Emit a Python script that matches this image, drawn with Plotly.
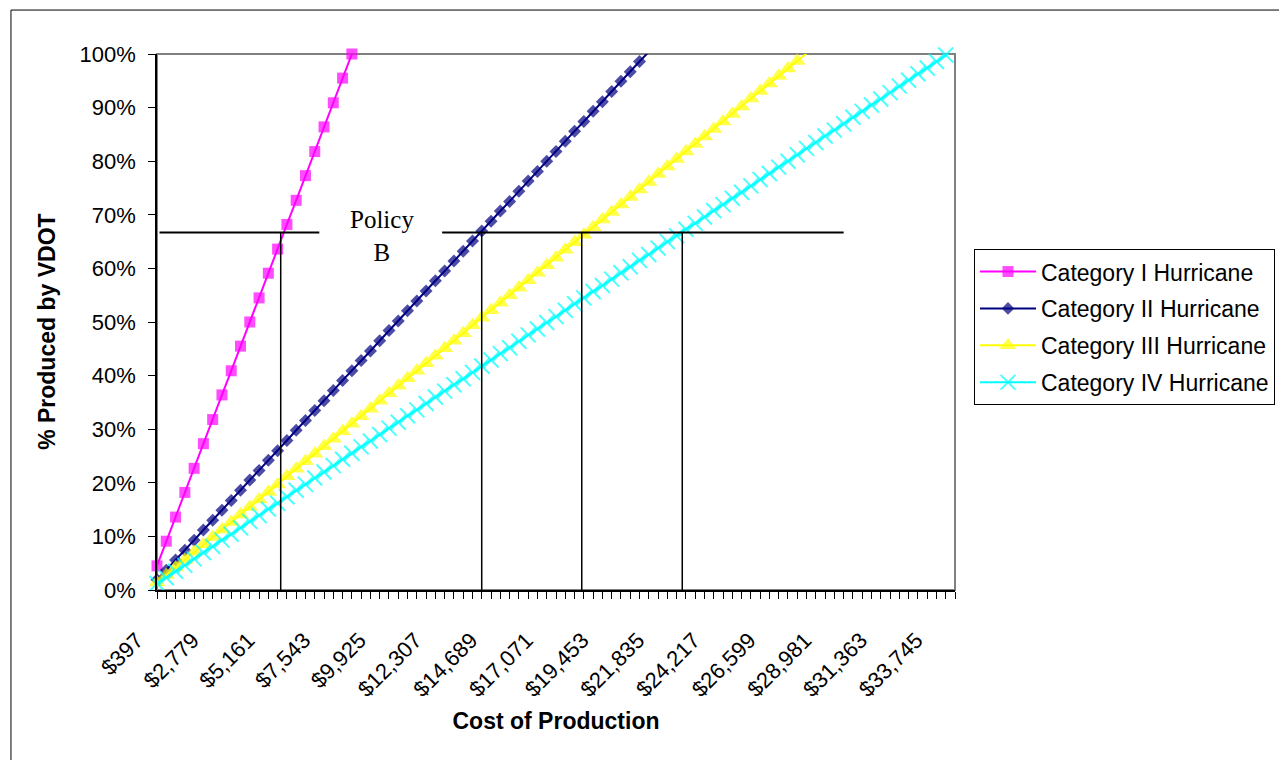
import plotly.graph_objects as go

# cost of production categories (every $397)
costs = [397, 794, 1191, 1588, 1985, 2382, 2779, 3176, 3573, 3970,
         4367, 4764, 5161, 5558, 5955, 6352, 6749, 7146, 7543, 7940,
         8337, 8734, 9131, 9528, 9925, 10322, 10719, 11116, 11513, 11910,
         12307, 12704, 13101, 13498, 13895, 14292, 14689, 15086, 15483, 15880,
         16277, 16674, 17071, 17468, 17865, 18262, 18659, 19056, 19453, 19850,
         20247, 20644, 21041, 21438, 21835, 22232, 22629, 23026, 23423, 23820,
         24217, 24614, 25011, 25408, 25805, 26202, 26599, 26996, 27393, 27790,
         28187, 28584, 28981, 29378, 29775, 30172, 30569, 30966, 31363, 31760,
         32157, 32554, 32951, 33348, 33745, 34142, 34539]

# % produced by VDOT
cat1 = [4.5, 9.1, 13.6, 18.2, 22.7, 27.3, 31.8, 36.4, 40.9, 45.5,
        50.0, 54.5, 59.1, 63.6, 68.2, 72.7, 77.3, 81.8, 86.4, 90.9,
        95.5, 100.0]
cat2 = [1.9, 3.7, 5.6, 7.4, 9.3, 11.2, 13.0, 14.9, 16.7, 18.6,
        20.5, 22.3, 24.2, 26.0, 27.9, 29.8, 31.6, 33.5, 35.3, 37.2,
        39.1, 40.9, 42.8, 44.6, 46.5, 48.4, 50.2, 52.1, 53.9, 55.8,
        57.7, 59.5, 61.4, 63.2, 65.1, 67.0, 68.8, 70.7, 72.5, 74.4,
        76.3, 78.1, 80.0, 81.8, 83.7, 85.6, 87.4, 89.3, 91.1, 93.0,
        94.9, 96.7, 98.6, 100.4]
cat3 = [1.4, 2.8, 4.2, 5.6, 7.1, 8.5, 9.9, 11.3, 12.7, 14.1,
        15.5, 16.9, 18.3, 19.7, 21.2, 22.6, 24.0, 25.4, 26.8, 28.2,
        29.6, 31.0, 32.4, 33.8, 35.3, 36.7, 38.1, 39.5, 40.9, 42.3,
        43.7, 45.1, 46.5, 47.9, 49.4, 50.8, 52.2, 53.6, 55.0, 56.4,
        57.8, 59.2, 60.6, 62.0, 63.5, 64.9, 66.3, 67.7, 69.1, 70.5,
        71.9, 73.3, 74.7, 76.1, 77.6, 79.0, 80.4, 81.8, 83.2, 84.6,
        86.0, 87.4, 88.8, 90.2, 91.7, 93.1, 94.5, 95.9, 97.3, 98.7,
        100.1]
cat4 = [1.2, 2.3, 3.5, 4.6, 5.8, 7.0, 8.1, 9.3, 10.4, 11.6,
        12.8, 13.9, 15.1, 16.2, 17.4, 18.6, 19.7, 20.9, 22.0, 23.2,
        24.4, 25.5, 26.7, 27.8, 29.0, 30.2, 31.3, 32.5, 33.6, 34.8,
        36.0, 37.1, 38.3, 39.4, 40.6, 41.8, 42.9, 44.1, 45.2, 46.4,
        47.6, 48.7, 49.9, 51.0, 52.2, 53.4, 54.5, 55.7, 56.8, 58.0,
        59.2, 60.3, 61.5, 62.6, 63.8, 65.0, 66.1, 67.3, 68.4, 69.6,
        70.8, 71.9, 73.1, 74.2, 75.4, 76.6, 77.7, 78.9, 80.0, 81.2,
        82.4, 83.5, 84.7, 85.8, 87.0, 88.2, 89.3, 90.5, 91.6, 92.8,
        94.0, 95.1, 96.3, 97.4, 98.6, 99.8, 100.9]

names = ["Category I Hurricane", "Category II Hurricane",
         "Category III Hurricane", "Category IV Hurricane"]

# Policy B reference: share level and the costs where each category meets it
policy_share = 66.7
policy_costs = [5690, 14290, 18570, 22870]
policy_spans = [(504, 7341), (12597, 29775)]

tick_costs = costs[::6]
tick_text = ["$" + format(c, ",") for c in tick_costs]

styles = [
    dict(color="#FF00FF", symbol="square", size=11, lw=0),
    dict(color="#000080", symbol="diamond", size=10, lw=0),
    dict(color="#FFFF00", symbol="triangle-up", size=15, lw=0),
    dict(color="#00FFFF", symbol="x-thin", size=15, lw=2),
]

fig = go.Figure()
for name, vals, st in zip(names, [cat1, cat2, cat3, cat4], styles):
    x = costs[:len(vals)]
    y = [v / 100 for v in vals]
    # Excel does not draw markers above the axis max
    sizes = [st["size"] if v <= 100 else 0 for v in vals]
    fig.add_trace(go.Scatter(
        x=x, y=y, name=name, mode="lines+markers", legendgroup=name,
        line=dict(color=st["color"], width=2),
        marker=dict(symbol=st["symbol"], size=sizes, color=st["color"],
                    line=dict(width=st["lw"], color=st["color"])),
        cliponaxis=False,
    ))

shapes = []
# outer chart border
shapes.append(dict(type="rect", xref="paper", yref="paper",
                   x0=-0.183, x1=1.45, y0=-0.35, y1=1.082,
                   line=dict(color="black", width=1), layer="below"))
# plot-area border (grey)
shapes.append(dict(type="rect", xref="paper", yref="paper",
                   x0=0, x1=1, y0=0, y1=1,
                   line=dict(color="#808080", width=2), layer="below"))
for a, b in policy_spans:
    shapes.append(dict(type="line", xref="x", yref="y", x0=a, x1=b,
                       y0=policy_share / 100, y1=policy_share / 100,
                       line=dict(color="black", width=2)))
for c in policy_costs:
    shapes.append(dict(type="line", xref="x", yref="y", x0=c, x1=c,
                       y0=policy_share / 100, y1=-0.016,
                       line=dict(color="black", width=1.5)))

fig.update_layout(
    width=1287, height=760,
    # the page body adds ~8px, so margins are trimmed by that much
    margin=dict(l=149, r=340, t=46, b=178),
    paper_bgcolor="white", plot_bgcolor="white",
    font=dict(family="Liberation Sans, Arial", size=22, color="black"),
    shapes=shapes,
    showlegend=True,
    legend=dict(x=1.0238, y=0.636, xanchor="left", yanchor="top",
                bordercolor="black", borderwidth=1, bgcolor="white",
                font=dict(size=23), tracegroupgap=4, itemwidth=56),
    annotations=[
        dict(text="Policy<br>B", x=10024, y=0.66, xref="x", yref="y",
             showarrow=False,
             font=dict(family="Liberation Serif, Times New Roman", size=25)),
        # y-axis title sits a bit below the plot centre, as in Excel
        dict(text="<b>% Produced by VDOT</b>", textangle=-90,
             x=-0.137, y=0.481, xref="paper", yref="paper",
             xanchor="center", yanchor="middle", showarrow=False,
             font=dict(size=23)),
    ],
)

fig.update_xaxes(
    range=[costs[0], costs[-1]], automargin=False,
    tickvals=tick_costs, ticktext=tick_text, tickangle=-45,
    ticks="outside", ticklen=7, tickcolor="black", tickwidth=1,
    minor=dict(tick0=costs[0], dtick=397, ticks="outside", ticklen=7,
               tickcolor="black", tickwidth=1, showgrid=False),
    showgrid=False, zeroline=False,
    showline=True, linecolor="black", linewidth=1.5,
    tickfont=dict(size=22), ticklabelstandoff=20, ticklabelshift=-20,
    title=dict(text="<b>Cost of Production</b>", font=dict(size=23), standoff=12),
)
fig.update_yaxes(
    range=[0, 1], dtick=0.1, tickformat=".0%", automargin=False,
    ticks="outside", ticklen=7, tickcolor="black",
    showgrid=False, zeroline=False,
    showline=True, linecolor="black", linewidth=1.5,
    tickfont=dict(size=22), ticklabelstandoff=8,
)

fig.write_html("out.html")
